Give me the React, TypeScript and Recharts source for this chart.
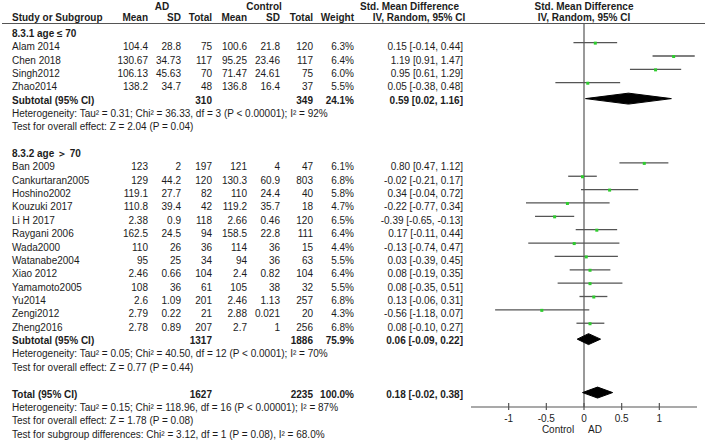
import React from 'react';
import { ScatterChart, Scatter, XAxis, YAxis, ReferenceLine, ErrorBar } from 'recharts';

const FONT = "'Liberation Sans', Arial, Helvetica, sans-serif";
const INK = '#1c1c1c';
const RULE = '#555555';

// individual studies (both subgroups)
const studies = [
  'Alam 2014', 'Chen 2018', 'Singh2012', 'Zhao2014',
  'Ban 2009', 'Cankurtaran2005', 'Hoshino2002', 'Kouzuki 2017', 'Li H 2017', 'Raygani 2006',
  'Wada2000', 'Watanabe2004', 'Xiao 2012', 'Yamamoto2005', 'Yu2014', 'Zengi2012', 'Zheng2016',
];
const studyGroup = [0, 0, 0, 0, 1, 1, 1, 1, 1, 1, 1, 1, 1, 1, 1, 1, 1];
const adMean = [104.4, 130.67, 106.13, 138.2, 123, 129, 119.1, 110.8, 2.38, 162.5, 110, 95, 2.46, 108, 2.6, 2.79, 2.78];
const adSd = [28.8, 34.73, 45.63, 34.7, 2, 44.2, 27.7, 39.4, 0.9, 24.5, 26, 25, 0.66, 36, 1.09, 0.22, 0.89];
const adTotal = [75, 117, 70, 48, 197, 120, 82, 42, 118, 94, 36, 34, 104, 61, 201, 21, 207];
const ctlMean = [100.6, 95.25, 71.47, 136.8, 121, 130.3, 110, 119.2, 2.66, 158.5, 114, 94, 2.4, 105, 2.46, 2.88, 2.7];
const ctlSd = [21.8, 23.46, 24.61, 16.4, 4, 60.9, 24.4, 35.7, 0.46, 22.8, 36, 36, 0.82, 38, 1.13, 0.021, 1];
const ctlTotal = [120, 117, 75, 37, 47, 803, 40, 18, 120, 111, 15, 63, 104, 32, 257, 20, 256];
const weights = [6.3, 6.4, 6.0, 5.5, 6.1, 6.8, 5.8, 4.7, 6.5, 6.4, 4.4, 5.5, 6.4, 5.5, 6.8, 4.3, 6.8];
const smd = [0.15, 1.19, 0.95, 0.05, 0.8, -0.02, 0.34, -0.22, -0.39, 0.17, -0.13, 0.03, 0.08, 0.08, 0.13, -0.56, 0.08];
const ciLow = [-0.14, 0.91, 0.61, -0.38, 0.47, -0.21, -0.04, -0.77, -0.65, -0.11, -0.74, -0.39, -0.19, -0.35, -0.06, -1.18, -0.1];
const ciHigh = [0.44, 1.47, 1.29, 0.48, 1.12, 0.17, 0.72, 0.34, -0.13, 0.44, 0.47, 0.45, 0.35, 0.51, 0.31, 0.07, 0.27];

// subgroup summaries
const subgroupNames = ['8.3.1 age ≤ 70', '8.3.2 age ＞ 70'];
const subgroupAdTotal = [310, 1317];
const subgroupCtlTotal = [349, 1886];
const subgroupWeight = [24.1, 75.9];
const subgroupSmd = [0.59, 0.06];
const subgroupLow = [0.02, -0.09];
const subgroupHigh = [1.16, 0.22];
const subgroupNotes = [
  ['Heterogeneity: Tau² = 0.31; Chi² = 36.33, df = 3 (P < 0.00001); I² = 92%', 'Test for overall effect: Z = 2.04 (P = 0.04)'],
  ['Heterogeneity: Tau² = 0.05; Chi² = 40.50, df = 12 (P < 0.0001); I² = 70%', 'Test for overall effect: Z = 0.77 (P = 0.44)'],
];

// overall
const totalCounts = [1627, 2235];
const totalWeight = 100.0;
const totalEffect = [0.18, -0.02, 0.38]; // smd, low, high
const totalNotes = [
  'Heterogeneity: Tau² = 0.15; Chi² = 118.96, df = 16 (P < 0.00001); I² = 87%',
  'Test for overall effect: Z = 1.78 (P = 0.08)',
  'Test for subgroup differences: Chi² = 3.12, df = 1 (P = 0.08), I² = 68.0%',
];

const xTicks = [-1, -0.5, 0, 0.5, 1];

const ci = (m: number, lo: number, hi: number) => `${m.toFixed(2)} [${lo.toFixed(2)}, ${hi.toFixed(2)}]`;
const pct = (w: number) => `${w.toFixed(1)}%`;

type Row = { text?: string; bold?: boolean; cells?: string[] };

// build table rows, row index = y value on the chart
const rows: Row[] = [];
const points: { x: number; y: number; err: number[] }[] = [];
const diamonds: { y: number; mid: number; lo: number; hi: number }[] = [];

subgroupNames.forEach((name, g) => {
  rows.push({ text: name, bold: true });
  studies.forEach((s, i) => {
    if (studyGroup[i] !== g) return;
    points.push({ x: smd[i], y: rows.length, err: [smd[i] - ciLow[i], ciHigh[i] - smd[i]] });
    rows.push({
      text: s,
      cells: [
        String(adMean[i]), String(adSd[i]), String(adTotal[i]),
        String(ctlMean[i]), String(ctlSd[i]), String(ctlTotal[i]),
        pct(weights[i]), ci(smd[i], ciLow[i], ciHigh[i]),
      ],
    });
  });
  diamonds.push({ y: rows.length, mid: subgroupSmd[g], lo: subgroupLow[g], hi: subgroupHigh[g] });
  rows.push({
    text: 'Subtotal (95% CI)',
    bold: true,
    cells: ['', '', String(subgroupAdTotal[g]), '', '', String(subgroupCtlTotal[g]), pct(subgroupWeight[g]),
      ci(subgroupSmd[g], subgroupLow[g], subgroupHigh[g])],
  });
  subgroupNotes[g].forEach((n) => rows.push({ text: n }));
  rows.push({});
});
diamonds.push({ y: rows.length, mid: totalEffect[0], lo: totalEffect[1], hi: totalEffect[2] });
rows.push({
  text: 'Total (95% CI)',
  bold: true,
  cells: ['', '', String(totalCounts[0]), '', '', String(totalCounts[1]), pct(totalWeight),
    ci(totalEffect[0], totalEffect[1], totalEffect[2])],
});
totalNotes.forEach((n) => rows.push({ text: n }));

const rowTicks = rows.map((_, i) => i).filter((i) => rows[i].text);

// right edges of the numeric columns
const colRight = [148, 181, 212, 247, 280, 313, 354, 463];

const diamondData = diamonds.map((d) => {
  const c = d.y + 0.19;
  const h = 0.41;
  return [
    { x: d.lo, y: c }, { x: d.mid, y: c - h }, { x: d.hi, y: c }, { x: d.mid, y: c + h }, { x: d.lo, y: c },
  ];
});

const RowTick = (props: any) => {
  const { y, payload } = props;
  const row = rows[payload.value];
  if (!row) return null;
  const ty = y + 7.5;
  const fw = row.bold ? 'bold' : 'normal';
  return (
    <g fontFamily={FONT} fontSize={10} fill={INK} fontWeight={fw}>
      <text x={12} y={ty} textAnchor="start">{row.text}</text>
      {row.cells?.map((c, k) =>
        c ? (
          <text key={k} x={colRight[k]} y={ty} textAnchor="end">{c}</text>
        ) : null,
      )}
    </g>
  );
};

const AxisTick = (props: any) => {
  const { x, y, payload } = props;
  return (
    <g fontFamily={FONT} fontSize={10} fill={INK}>
      <line x1={x} x2={x} y1={y - 4} y2={y + 3} stroke={RULE} strokeWidth={1.2} />
      <text x={x} y={y + 14.5} textAnchor="middle">{String(payload.value)}</text>
      {payload.value === 0 && (
        <>
          <text x={x - 26} y={y + 26} textAnchor="middle">Control</text>
          <text x={x + 11} y={y + 26} textAnchor="middle">AD</text>
        </>
      )}
    </g>
  );
};

const StudySquare = (props: any) => {
  const { cx, cy } = props;
  return <rect x={cx - 1.5} y={cy - 1} width={3} height={3} fill="#2ecc2e" />;
};

const Header = () => (
  <svg width={708} height={30} style={{ position: 'absolute', left: 0, top: 0 }}>
    <g fontFamily={FONT} fontSize={10} fill={INK} fontWeight="bold">
      <text x={162} y={9.5} textAnchor="middle">AD</text>
      <text x={264} y={9.5} textAnchor="middle">Control</text>
      <text x={409.5} y={9.5} textAnchor="middle">Std. Mean Difference</text>
      <text x={584} y={9.5} textAnchor="middle">Std. Mean Difference</text>
      <text x={12} y={21} textAnchor="start">Study or Subgroup</text>
      {['Mean', 'SD', 'Total', 'Mean', 'SD', 'Total', 'Weight'].map((h, k) => (
        <text key={k} x={colRight[k]} y={21} textAnchor="end">{h}</text>
      ))}
      <text x={419} y={21} textAnchor="middle">IV, Random, 95% CI</text>
      <text x={584} y={21} textAnchor="middle">IV, Random, 95% CI</text>
    </g>
    <line x1={2} x2={705} y1={23.5} y2={23.5} stroke={RULE} strokeWidth={1.2} />
  </svg>
);

export default function App() {
  return (
    <div style={{ position: 'absolute', left: 0, top: 0, width: 708, height: 443, background: '#fff' }}>
      <ScatterChart width={708} height={443} margin={{ top: 23, right: 11, bottom: 0, left: 0 }}>
        <XAxis
          type="number"
          dataKey="x"
          domain={[-1.5, 1.5]}
          ticks={xTicks}
          allowDataOverflow
          height={36}
          tickSize={0}
          tickMargin={0}
          tickLine={false}
          axisLine={{ stroke: RULE, strokeWidth: 1.2 }}
          tick={AxisTick}
          interval={0}
        />
        <YAxis
          type="number"
          dataKey="y"
          domain={[-0.47, 28.27]}
          reversed
          allowDataOverflow
          width={471}
          ticks={rowTicks}
          interval={0}
          tickSize={0}
          tickLine={false}
          axisLine={false}
          tick={RowTick}
        />
        <ReferenceLine x={0} stroke={RULE} strokeWidth={1.2} ifOverflow="extendDomain" />
        <Scatter data={points} fill="#2ecc2e" shape={StudySquare} isAnimationActive={false}>
          <ErrorBar dataKey="err" direction="x" width={0} stroke={RULE} strokeWidth={1.3} isAnimationActive={false} />
        </Scatter>
        {diamondData.map((d, i) => (
          <Scatter
            key={i}
            data={d}
            fill="#000"
            line={{ stroke: '#000', fill: '#000', strokeWidth: 1 }}
            shape={() => <g />}
            isAnimationActive={false}
          />
        ))}
      </ScatterChart>
      <Header />
    </div>
  );
}
